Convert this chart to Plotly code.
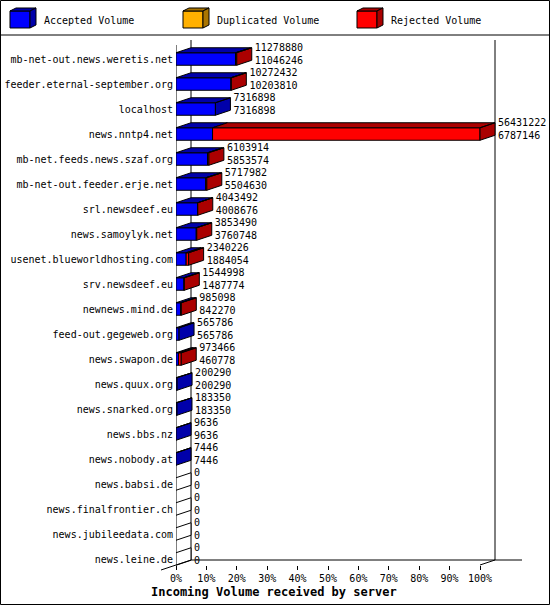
import plotly.graph_objects as go

W, H = 550, 605

servers = [
    "mb-net-out.news.weretis.net", "feeder.eternal-september.org", "localhost",
    "news.nntp4.net", "mb-net.feeds.news.szaf.org", "mb-net-out.feeder.erje.net",
    "srl.newsdeef.eu", "news.samoylyk.net", "usenet.blueworldhosting.com",
    "srv.newsdeef.eu", "newnews.mind.de", "feed-out.gegeweb.org", "news.swapon.de",
    "news.quux.org", "news.snarked.org", "news.bbs.nz", "news.nobody.at",
    "news.babsi.de", "news.finalfrontier.ch", "news.jubileedata.com", "news.leine.de",
]
total_volume = [
    11278880, 10272432, 7316898, 56431222, 6103914, 5717982, 4043492, 3853490,
    2340226, 1544998, 985098, 565786, 973466, 200290, 183350, 9636, 7446, 0, 0, 0, 0,
]
accepted_volume = [
    11046246, 10203810, 7316898, 6787146, 5853574, 5504630, 4008676, 3760748,
    1884054, 1487774, 842270, 565786, 460778, 200290, 183350, 9636, 7446, 0, 0, 0, 0,
]
duplicated_volume = [0] * len(servers)
rejected_volume = [t - a - d for t, a, d in zip(total_volume, accepted_volume, duplicated_volume)]

legend_labels = ["Accepted Volume", "Duplicated Volume", "Rejected Volume"]
pct_ticks = list(range(0, 101, 10))

# pixel geometry of the 3d frame
X0, PX_PCT = 176, 3.04
ROW0, ROW_PX = 59, 25
DEPTH_X, DEPTH_Y = 15, 5
HALF = 6.25
TOP_PX, BOT_PX = 45, 565
FLOOR_END_PX = 522

dx = DEPTH_X / PX_PCT
dd = DEPTH_Y / ROW_PX
h = HALF / ROW_PX
y_top = (TOP_PX - ROW0) / ROW_PX
y_bot = (BOT_PX - ROW0) / ROW_PX


def fx(px):
    return px / W


def fy(py):
    return 1 - py / H


FRONT = {"acc": "#0000ff", "dup": "#ffb000", "rej": "#ff0000"}
DARK = {"acc": "#0000aa", "dup": "#aa7500", "rej": "#aa0000"}
FONT = "DejaVu Sans Mono"

vmax = max(total_volume)
polys = {}


def add(color, pts):
    xs, ys = polys.setdefault(color, ([], []))
    for x, y in pts + [pts[0]]:
        xs.append(x)
        ys.append(y)
    xs.append(None)
    ys.append(None)


for i in range(len(servers)):
    top, bot = i - h, i + h
    x = 0
    last = None
    for key, vals in (("acc", accepted_volume), ("dup", duplicated_volume), ("rej", rejected_volume)):
        w = vals[i] / vmax * 100
        if w <= 0:
            continue
        add(FRONT[key], [(x, top), (x + w, top), (x + w, bot), (x, bot)])
        add(DARK[key], [(x, top), (x + dx, top - dd), (x + w + dx, top - dd), (x + w, top)])
        x += w
        last = key
    side = DARK[last] if last else "white"
    add(side, [(x, top), (x + dx, top - dd), (x + dx, bot - dd), (x, bot)])

fig = go.Figure()
for color, (xs, ys) in polys.items():
    fig.add_trace(go.Scatter(
        x=xs, y=ys, mode="lines", fill="toself", fillcolor=color,
        line=dict(color="black", width=1), hoverinfo="skip", showlegend=False,
    ))

fig.add_trace(go.Scatter(
    x=[t / vmax * 100 + dx + 1 for t in total_volume],
    y=[i - 0.16 for i in range(len(servers))],
    mode="text",
    text=[f"{t}<br>{a}" for t, a in zip(total_volume, accepted_volume)],
    textposition="middle right",
    textfont=dict(family=FONT, size=10, color="black"),
    cliponaxis=False, hoverinfo="skip", showlegend=False,
))

shapes = []
line = dict(color="black", width=1)
# frame of the chart
shapes.append(dict(type="line", xref="x", yref="y", x0=0, x1=0, y0=y_top, y1=y_bot, line=line, layer="below"))
shapes.append(dict(type="line", xref="x", yref="y", x0=dx, x1=dx, y0=y_top - dd, y1=y_bot - dd, line=line, layer="below"))
shapes.append(dict(type="line", xref="x", yref="y", x0=100 + dx, x1=100 + dx, y0=y_top - dd, y1=y_bot - dd, line=line, layer="below"))
shapes.append(dict(type="line", xref="x", yref="y", x0=dx, x1=(FLOOR_END_PX - X0) / PX_PCT, y0=y_bot - dd, y1=y_bot - dd, line=line, layer="below"))
shapes.append(dict(type="line", xref="x", yref="y", x0=100, x1=100 + dx, y0=y_bot, y1=y_bot - dd, line=line, layer="below"))
shapes.append(dict(type="line", xref="paper", yref="paper",
                   x0=fx(X0 - DEPTH_X), y0=fy(BOT_PX + DEPTH_Y), x1=fx(X0 + DEPTH_X), y1=fy(BOT_PX - DEPTH_Y), line=line))
# outer border and legend separator
shapes.append(dict(type="rect", xref="paper", yref="paper", x0=fx(0.5), x1=fx(549.5), y0=fy(0.5), y1=fy(604.5), line=line))
shapes.append(dict(type="line", xref="paper", yref="paper", x0=0, x1=1, y0=fy(35), y1=fy(35), line=line))


def path(pts):
    return "M " + " L ".join(f"{fx(a):.5f},{fy(b):.5f}" for a, b in pts) + " Z"


annotations = []
for lx, key, label in zip([10, 183, 357], ["acc", "dup", "rej"], legend_labels):
    shapes.append(dict(type="path", xref="paper", yref="paper", fillcolor=FRONT[key], line=line,
                       path=path([(lx, 11), (lx + 20, 11), (lx + 20, 28), (lx, 28)])))
    shapes.append(dict(type="path", xref="paper", yref="paper", fillcolor=DARK[key], line=line,
                       path=path([(lx, 11), (lx + 6, 8), (lx + 26, 8), (lx + 20, 11)])))
    shapes.append(dict(type="path", xref="paper", yref="paper", fillcolor=DARK[key], line=line,
                       path=path([(lx + 20, 11), (lx + 26, 8), (lx + 26, 25), (lx + 20, 28)])))
    annotations.append(dict(xref="paper", yref="paper", x=fx(lx + 32), y=fy(20), text=label,
                            showarrow=False, xanchor="left", yanchor="middle",
                            font=dict(family=FONT, size=10, color="black")))

annotations.append(dict(xref="paper", yref="paper", x=fx(274), y=fy(592),
                        text="Incoming Volume received by server", showarrow=False,
                        xanchor="center", yanchor="middle",
                        font=dict(family=FONT, size=12, color="black", weight="bold")))

fig.update_layout(
    width=W, height=H,
    margin=dict(l=0, r=0, t=0, b=0),
    paper_bgcolor="white", plot_bgcolor="white",
    showlegend=False,
    shapes=shapes, annotations=annotations,
    xaxis=dict(
        domain=[fx(X0), fx(549)], range=[0, (549 - X0) / PX_PCT],
        anchor="free", position=fy(BOT_PX),
        tickvals=pct_ticks, ticktext=[f"{p}%" for p in pct_ticks],
        ticks="outside", ticklen=4, tickcolor="black", tickwidth=1,
        showline=False, showgrid=False, zeroline=False, automargin=False,
        tickfont=dict(family=FONT, size=10, color="black"), fixedrange=True,
    ),
    yaxis=dict(
        domain=[fy(575), fy(38)],
        range=[(575 - ROW0) / ROW_PX, (38 - ROW0) / ROW_PX],
        tickvals=list(range(len(servers))), ticktext=servers,
        ticks="", showline=False, showgrid=False, zeroline=False, automargin=False,
        ticklabelstandoff=2,
        tickfont=dict(family=FONT, size=10, color="black"), fixedrange=True,
    ),
)

fig.write_html("out.html", config={"displayModeBar": False},
               post_script="document.body.style.margin='0';")
